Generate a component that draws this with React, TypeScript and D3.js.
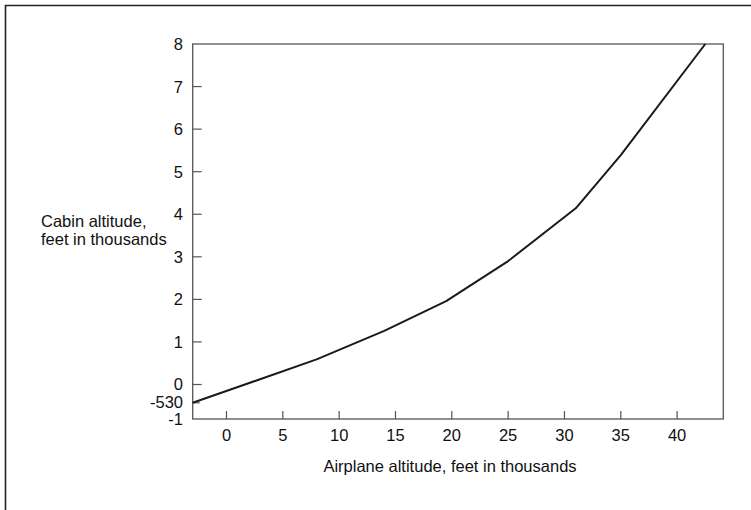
import React from "react";
import * as d3 from "d3";

const airplaneAltitude = [-3, 8, 14, 19.5, 25, 31, 35, 42.5];
const cabinAltitude = [-0.53, 0.59, 1.26, 1.96, 2.9, 4.14, 5.39, 8];
const xTicks = [0, 5, 10, 15, 20, 25, 30, 35, 40];
const yTicks = [-1, 0, 1, 2, 3, 4, 5, 6, 7, 8];
const extraYTick = { value: -0.53, label: "-530" };

const W = 751;
const H = 510;
const FONT = "'Liberation Sans', Arial, Helvetica, sans-serif";
const FS = 16.5;
const TXT = "#111";

export default function App() {
  const left = 192.7, right = 723.3, top = 44, bottom = 419;
  const x = d3.scaleLinear().domain([-3, 44.1]).range([left, right]);
  const y = d3.scaleLinear().domain([-1, 0, 8]).range([bottom, 384.5, top]);
  const pts: [number, number][] = airplaneAltitude.map((a, i) => [a, cabinAltitude[i]]);
  const line = d3.line<[number, number]>().x((d) => x(d[0])).y((d) => y(d[1]));

  return (
    <svg width={W} height={H} style={{ position: "absolute", left: 0, top: 0 }}>
      <rect x={0} y={0} width={W} height={H} fill="#fff" />
      <path d={`M5.5,${H + 5} V5.5 H${W + 5}`} fill="none" stroke="#222" strokeWidth={1.6} />
      <rect x={left} y={top} width={right - left} height={bottom - top} fill="none" stroke="#555" strokeWidth={1.3} />
      {yTicks.filter((t) => t > -1 && t < 8).map((t) => (
        <line key={"yt" + t} x1={left} x2={left + 9} y1={y(t)} y2={y(t)} stroke="#555" strokeWidth={1.2} />
      ))}
      <line x1={left} x2={left + 7} y1={y(extraYTick.value)} y2={y(extraYTick.value)} stroke="#555" strokeWidth={1.2} />
      {xTicks.map((t) => (
        <line key={"xt" + t} x1={x(t)} x2={x(t)} y1={bottom} y2={bottom - 8} stroke="#555" strokeWidth={1.2} />
      ))}
      {yTicks.map((t) => (
        <text key={"yl" + t} x={183} y={y(t)} dy="0.36em" textAnchor="end" fontFamily={FONT} fontSize={FS} fill={TXT}>
          {t}
        </text>
      ))}
      <text x={183} y={y(extraYTick.value)} dy="0.3em" textAnchor="end" fontFamily={FONT} fontSize={FS} fill={TXT}>
        {extraYTick.label}
      </text>
      {xTicks.map((t) => (
        <text key={"xl" + t} x={x(t)} y={441} textAnchor="middle" fontFamily={FONT} fontSize={FS} fill={TXT}>
          {t}
        </text>
      ))}
      <text x={(left + right) / 2 - 8} y={472} textAnchor="middle" fontFamily={FONT} fontSize={FS} fill={TXT}>
        Airplane altitude, feet in thousands
      </text>
      <text x={41} y={226.5} fontFamily={FONT} fontSize={FS} fill={TXT}>Cabin altitude,</text>
      <text x={41} y={245} fontFamily={FONT} fontSize={FS} fill={TXT}>feet in thousands</text>
      <path d={line(pts) || ""} fill="none" stroke="#1a1a1a" strokeWidth={2} strokeLinejoin="round" />
    </svg>
  );
}
